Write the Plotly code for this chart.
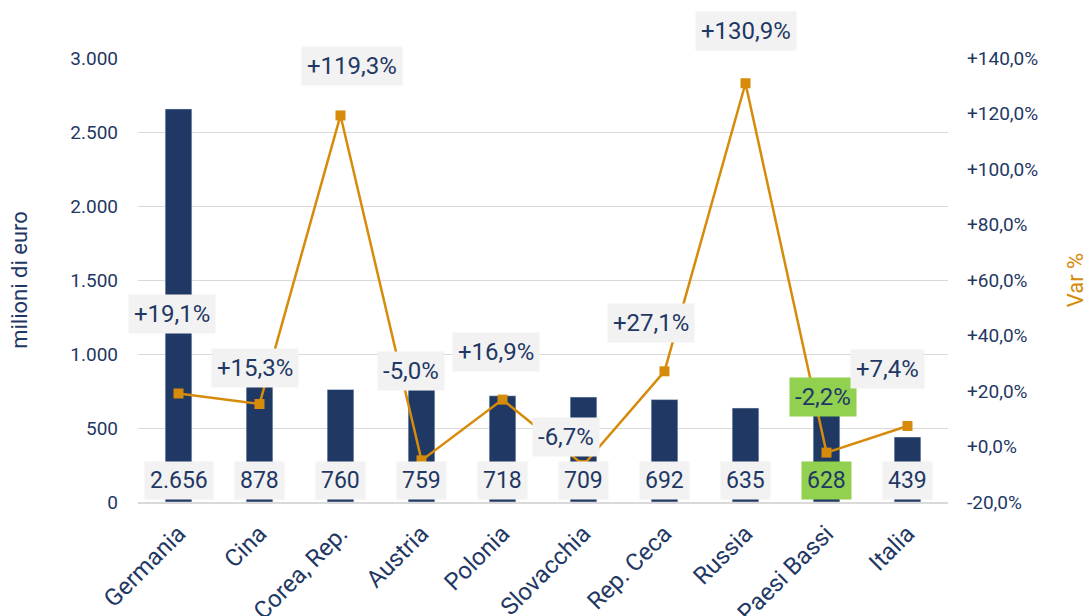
import plotly.graph_objects as go

categories = ["Germania", "Cina", "Corea, Rep.", "Austria", "Polonia",
              "Slovacchia", "Rep. Ceca", "Russia", "Paesi Bassi", "Italia"]
values = [2656, 878, 760, 759, 718, 709, 692, 635, 628, 439]
var_pct = [19.1, 15.3, 119.3, -5.0, 16.9, -6.7, 27.1, 130.9, -2.2, 7.4]
bar_labels = ["2.656", "878", "760", "759", "718", "709", "692", "635", "628", "439"]
pct_labels = ["+19,1%", "+15,3%", "+119,3%", "-5,0%", "+16,9%",
              "-6,7%", "+27,1%", "+130,9%", "-2,2%", "+7,4%"]
left_ticks = [0, 500, 1000, 1500, 2000, 2500, 3000]
left_ticktext = ["0", "500", "1.000", "1.500", "2.000", "2.500", "3.000"]
right_ticks = [-20, 0, 20, 40, 60, 80, 100, 120, 140]
right_ticktext = ["-20,0%", "+0,0%", "+20,0%", "+40,0%", "+60,0%", "+80,0%",
                  "+100,0%", "+120,0%", "+140,0%"]
highlight = "Paesi Bassi"

# label offsets (pixels) for the percentage labels, relative to the markers
pct_dx = [-7, -5, 11, -11, -7, -18, -14, 0, -4, -20]
pct_dy = [80, 36, 49, 89, 48, 28, 48, 52, 56, 57]

NAVY = "#1F3864"
ORANGE = "#D68B0A"
GREY_BG = "#F2F2F2"
GREEN = "#92D050"
FONT = "Roboto"

fig = go.Figure()
fig.add_trace(go.Bar(x=categories, y=values, marker_color=NAVY, width=0.33,
                     name="milioni di euro"))
fig.add_trace(go.Scatter(x=categories, y=var_pct, yaxis="y2", mode="lines+markers",
                         line=dict(color=ORANGE, width=2.5),
                         marker=dict(symbol="square", size=10, color=ORANGE),
                         name="Var %"))

annotations = []
for c, t in zip(categories, bar_labels):
    annotations.append(dict(x=c, y=0, xref="x", yref="y", text=t, showarrow=False,
                            yanchor="middle", yshift=22,
                            font=dict(family=FONT, size=23, color=NAVY),
                            bgcolor=GREEN if c == highlight else GREY_BG,
                            borderpad=5))
for c, v, t, dx, dy in zip(categories, var_pct, pct_labels, pct_dx, pct_dy):
    annotations.append(dict(x=c, y=v, xref="x", yref="y2", text=t, showarrow=False,
                            yanchor="middle", xshift=dx, yshift=dy,
                            font=dict(family=FONT, size=24, color=NAVY),
                            bgcolor=GREEN if c == highlight else GREY_BG,
                            borderpad=5))

fig.update_layout(
    width=1089, height=616,
    margin=dict(l=138, r=141, t=58, b=114),
    paper_bgcolor="white", plot_bgcolor="white",
    showlegend=False,
    font=dict(family=FONT, color=NAVY, size=19),
    xaxis=dict(range=[-0.5, len(categories) - 0.5],
               tickangle=-45, tickfont=dict(size=24, color=NAVY), automargin=False,
               showgrid=False, showline=True, linecolor="#D9D9D9", linewidth=2,
               ticks="", ticklabelstandoff=6),
    yaxis=dict(range=[0, 3000], tickvals=left_ticks, ticktext=left_ticktext,
               showgrid=True, gridcolor="#D9D9D9", gridwidth=1, automargin=False,
               zeroline=False, ticks="", tickfont=dict(size=19, color=NAVY),
               ticklabelstandoff=19,
               title=dict(text="milioni di euro", font=dict(size=22, color=NAVY),
                          standoff=36)),
    yaxis2=dict(range=[-20, 140], overlaying="y", side="right",
                tickvals=right_ticks, ticktext=right_ticktext, automargin=False,
                showgrid=False, zeroline=False, ticklabelstandoff=18,
                ticks="", tickfont=dict(size=19, color=NAVY),
                title=dict(text="Var %", font=dict(size=22, color=ORANGE),
                           standoff=30)),
    annotations=annotations,
)

fig.write_html("out.html", config={"displayModeBar": False},
               post_script="document.body.style.margin='0';"
                           "document.body.style.overflow='hidden';")
